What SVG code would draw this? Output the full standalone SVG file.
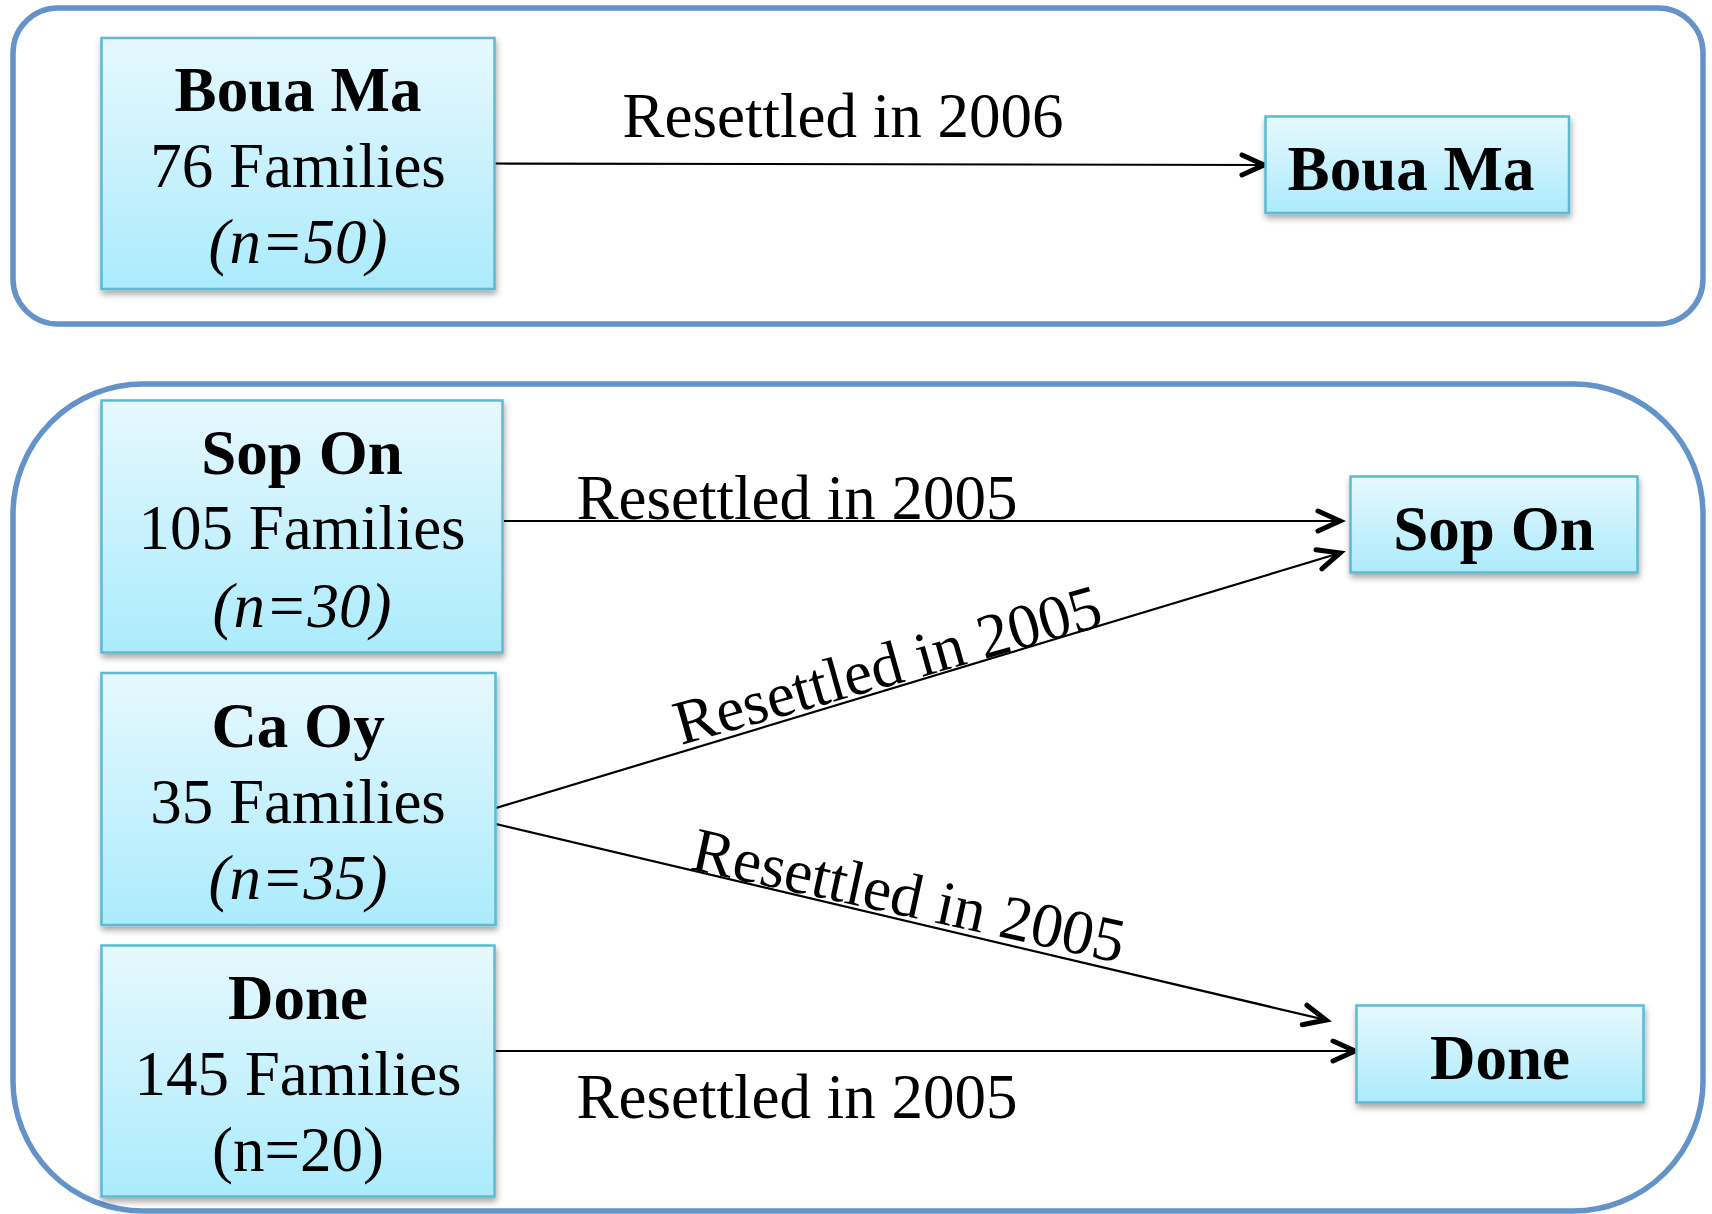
<svg xmlns="http://www.w3.org/2000/svg" width="1712" height="1214" viewBox="0 0 1712 1214">
<defs>
<linearGradient id="boxgrad" x1="0" y1="0" x2="0" y2="1">
<stop offset="0" stop-color="#E7F8FE"/>
<stop offset="1" stop-color="#ABEBFC"/>
</linearGradient>
<filter id="shadow" x="-10%" y="-10%" width="120%" height="130%">
<feDropShadow dx="1" dy="4" stdDeviation="3" flood-color="#000" flood-opacity="0.35"/>
</filter>
<marker id="arrow" markerUnits="userSpaceOnUse" viewBox="-30 -18 36 36" markerWidth="36" markerHeight="36" refX="0" refY="0" orient="auto">
<path d="M-22,-10 L0,0 L-22,10" fill="none" stroke="#000" stroke-width="5" stroke-linecap="round" stroke-linejoin="miter"/>
</marker>
<style>
.container{fill:none;stroke:#6393C8;stroke-width:5.5}
.box{fill:url(#boxgrad);stroke:#5ABBD3;stroke-width:2.5;filter:url(#shadow)}
text{font-family:"Liberation Serif","Times New Roman",serif;font-size:63px;fill:#000}
.b{font-weight:bold}
.i{font-style:italic}
.c{text-anchor:middle}
.edge{stroke:#000;stroke-width:2.2;fill:none;marker-end:url(#arrow)}
</style>
</defs>
<rect width="1712" height="1214" fill="#fff"/>
<g id="containers">
<rect class="container" x="13" y="8" width="1690" height="316" rx="45" ry="45"/>
<rect class="container" x="13" y="384" width="1690" height="827" rx="130" ry="130"/>
</g>
<g id="connectors">
<line class="edge" x1="495" y1="163.5" x2="1264" y2="165"/>
<line class="edge" x1="504" y1="521" x2="1340" y2="521"/>
<line class="edge" x1="496" y1="808" x2="1340" y2="553"/>
<line class="edge" x1="496" y1="824" x2="1326" y2="1020"/>
<line class="edge" x1="495" y1="1051" x2="1355" y2="1051"/>
<text class="c" x="843" y="137">Resettled in 2006</text>
<text class="c" x="797" y="519">Resettled in 2005</text>
<text x="681" y="745" transform="rotate(-15.8 681 745)">Resettled in 2005</text>
<text x="689" y="869" transform="rotate(12.3 689 869)">Resettled in 2005</text>
<text class="c" x="797" y="1118">Resettled in 2005</text>
</g>
<g id="node-bouama-src">
<rect class="box" x="101.5" y="38" width="393" height="251"/>
<text class="c b" x="298" y="111">Boua Ma</text>
<text class="c" x="298" y="187">76 Families</text>
<text class="c i" x="298" y="263">(n=50)</text>
</g>
<g id="node-bouama-dst">
<rect class="box" x="1265.5" y="116.5" width="303.5" height="96.5"/>
<text class="c b" x="1411" y="190">Boua Ma</text>
</g>
<g id="node-sopon-src">
<rect class="box" x="101.5" y="400.5" width="401" height="252"/>
<text class="c b" x="302" y="474">Sop On</text>
<text class="c" x="302" y="549">105 Families</text>
<text class="c i" x="302" y="627">(n=30)</text>
</g>
<g id="node-caoy-src">
<rect class="box" x="101.5" y="673" width="394" height="252"/>
<text class="c b" x="298" y="747">Ca Oy</text>
<text class="c" x="298" y="823">35 Families</text>
<text class="c i" x="298" y="899">(n=35)</text>
</g>
<g id="node-done-src">
<rect class="box" x="101.5" y="945.5" width="393" height="251"/>
<text class="c b" x="298" y="1019">Done</text>
<text class="c" x="298" y="1095">145 Families</text>
<text class="c" x="298" y="1171">(n=20)</text>
</g>
<g id="node-sopon-dst">
<rect class="box" x="1350.5" y="476.5" width="287" height="96"/>
<text class="c b" x="1494" y="550">Sop On</text>
</g>
<g id="node-done-dst">
<rect class="box" x="1356.5" y="1005.5" width="287" height="97"/>
<text class="c b" x="1500" y="1079">Done</text>
</g>
</svg>
